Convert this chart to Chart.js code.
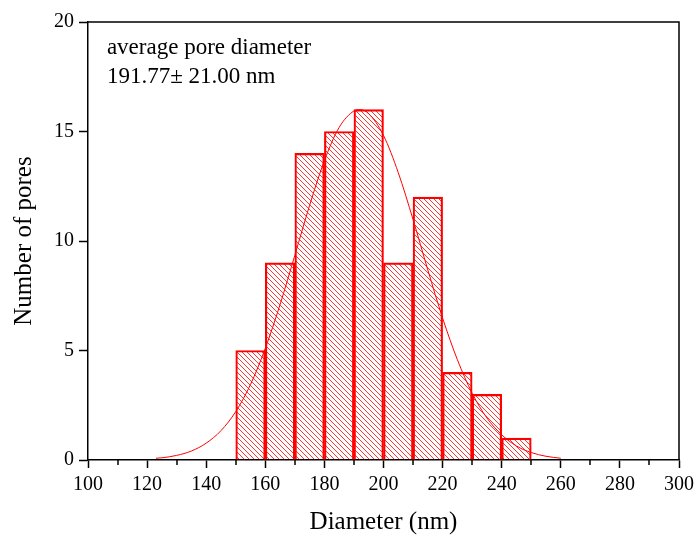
<!DOCTYPE html>
<html><head><meta charset="utf-8">
<script src="https://cdn.jsdelivr.net/npm/chart.js@4.4.1/dist/chart.umd.min.js"></script>
<style>html,body{margin:0;padding:0;background:#fff}#wrap{width:699px;height:538px}</style>
</head><body><div id="wrap"><canvas id="c" width="699" height="538"></canvas></div>
<script>
// Histogram bins (centre of each 10 nm bin) and counts
const binCenters = [155, 165, 175, 185, 195, 205, 215, 225, 235, 245];
const binCounts  = [5, 9, 14, 15, 16, 9, 12, 4, 3, 1];
// Gaussian fit curve
const fitX = [123, 125, 130, 135, 140, 145, 150, 155, 160, 165, 170, 175, 180, 185, 190, 192, 195, 200, 205, 210, 215, 220, 225, 230, 235, 240, 245, 250, 255, 260];
const fitY = [0.08, 0.10, 0.21, 0.41, 0.77, 1.34, 2.21, 3.45, 5.10, 7.10, 9.35, 11.63, 13.67, 15.19, 15.94, 16.00, 15.81, 14.82, 13.12, 10.98, 8.68, 6.48, 4.58, 3.05, 1.92, 1.15, 0.64, 0.34, 0.17, 0.08];
// Axis tick labels
const xTickLabels = [100, 120, 140, 160, 180, 200, 220, 240, 260, 280, 300];
const yTickLabels = [0, 5, 10, 15, 20];
const annotationLines = ['average pore diameter', '191.77\u00B1 21.00 nm'];

const FONT = '"Liberation Serif", "Times New Roman", serif';
const RED = '#ff0000';

function makeHatch() {
  const p = 5;
  const c = document.createElement('canvas');
  c.width = p; c.height = p;
  const g = c.getContext('2d');
  g.strokeStyle = RED; g.lineWidth = 0.8;
  g.beginPath();
  g.moveTo(-1, -1); g.lineTo(p + 1, p + 1);
  g.moveTo(-1, p - 1); g.lineTo(1, p + 1);
  g.moveTo(p - 1, -1); g.lineTo(p + 1, 1);
  g.stroke();
  return document.getElementById('c').getContext('2d').createPattern(c, 'repeat');
}

const framePlugin = {
  id: 'frame',
  afterDraw(chart) {
    const {ctx, chartArea: a, scales} = chart;
    ctx.save();
    ctx.strokeStyle = '#000';
    ctx.lineWidth = 1.5;
    ctx.beginPath();
    ctx.moveTo(a.left, a.top); ctx.lineTo(a.right, a.top); ctx.lineTo(a.right, a.bottom);
    ctx.stroke();
    // minor x ticks
    const xs = scales.x;
    ctx.beginPath();
    for (let v = xs.min + 10; v < xs.max; v += 20) {
      const px = Math.round(xs.getPixelForValue(v));
      ctx.moveTo(px, a.bottom); ctx.lineTo(px, a.bottom + 5);
    }
    ctx.stroke();
    // annotation
    ctx.fillStyle = '#000';
    ctx.font = '23px ' + FONT;
    ctx.textBaseline = 'alphabetic';
    ctx.textAlign = 'left';
    const tx = xs.getPixelForValue(106.4);
    const ys = scales.y;
    ctx.fillText(annotationLines[0], tx, ys.getPixelForValue(18.55));
    ctx.fillText(annotationLines[1], tx, ys.getPixelForValue(17.23));
    ctx.restore();
  }
};

new Chart(document.getElementById('c'), {
  type: 'bar',
  data: {
    datasets: [
      {
        type: 'line',
        data: fitX.map((x, i) => ({x, y: fitY[i]})),
        borderColor: RED,
        borderWidth: 1,
        pointRadius: 0,
        cubicInterpolationMode: 'monotone',
        fill: false,
        order: 1
      },
      {
        type: 'bar',
        data: binCenters.map((x, i) => ({x, y: binCounts[i]})),
        backgroundColor: makeHatch(),
        borderColor: RED,
        borderWidth: 1.5,
        borderSkipped: 'bottom',
        barPercentage: 1,
        categoryPercentage: 1,
        order: 2
      }
    ]
  },
  options: {
    responsive: false,
    animation: false,
    devicePixelRatio: 1,
    layout: {padding: {left: 0, top: 22, right: 20, bottom: 0}},
    plugins: {legend: {display: false}, tooltip: {enabled: false}},
    scales: {
      x: {
        type: 'linear',
        min: 100, max: 300,
        offset: false,
        afterFit(s) { s.height = 78; },
        border: {color: '#000', width: 1.5},
        grid: {
          offset: false,
          drawOnChartArea: false,
          tickLength: 8,
          tickWidth: 1.5,
          tickColor: ctx => (ctx.tick && xTickLabels.includes(ctx.tick.value)) ? '#000' : 'rgba(0,0,0,0)'
        },
        ticks: {
          stepSize: 10,
          autoSkip: false,
          maxRotation: 0,
          padding: 5,
          color: '#000',
          font: {family: FONT, size: 20},
          callback: v => xTickLabels.includes(v) ? String(v) : ''
        },
        title: {display: true, text: 'Diameter (nm)', color: '#000', font: {family: FONT, size: 25}, padding: {top: 0, bottom: 1}}
      },
      y: {
        min: 0, max: 20,
        afterFit(s) { s.width = 88; },
        border: {color: '#000', width: 1.5},
        grid: {drawOnChartArea: false, tickLength: 9, tickWidth: 1.5, color: '#000'},
        ticks: {
          stepSize: 5,
          padding: 5,
          color: '#000',
          font: {family: FONT, size: 20},
          callback: v => yTickLabels.includes(v) ? String(v) : ''
        },
        title: {display: true, text: 'Number of pores', color: '#000', font: {family: FONT, size: 25}, padding: {top: 9, bottom: 0}}
      }
    }
  },
  plugins: [framePlugin]
});
</script>
</body></html>
